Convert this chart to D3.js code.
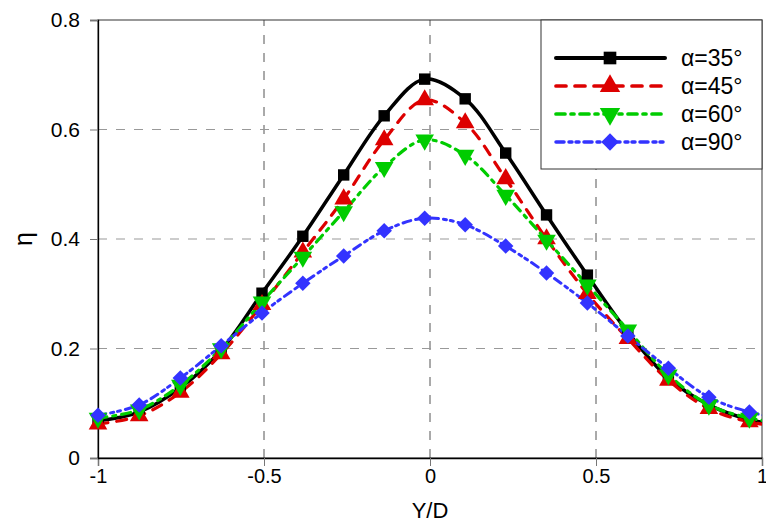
<!DOCTYPE html>
<html><head><meta charset="utf-8">
<script src="https://cdn.jsdelivr.net/npm/d3@7"></script>
<style>body{margin:0;background:#fff}svg{display:block}text{font-family:"Liberation Sans",Arial,sans-serif}</style>
</head><body>
<script>
const xValues = [-1.0,-0.876,-0.752,-0.629,-0.506,-0.383,-0.26,-0.138,-0.016,0.106,0.228,0.351,0.474,0.596,0.718,0.84,0.962,1.084];
const eta35 = [0.068,0.084,0.128,0.197,0.301,0.405,0.517,0.625,0.692,0.656,0.557,0.444,0.334,0.23,0.146,0.097,0.07,0.058];
const eta45 = [0.062,0.077,0.12,0.19,0.28,0.376,0.473,0.581,0.654,0.612,0.51,0.4,0.3,0.218,0.142,0.09,0.066,0.056];
const eta60 = [0.073,0.088,0.133,0.2,0.285,0.367,0.45,0.531,0.581,0.553,0.48,0.398,0.316,0.234,0.152,0.097,0.073,0.062];
const eta90 = [0.078,0.097,0.146,0.205,0.265,0.319,0.369,0.415,0.438,0.426,0.387,0.338,0.283,0.223,0.164,0.111,0.084,0.07];
const seriesNames = ["α=35°","α=45°","α=60°","α=90°"];
const seriesColors = ["#000000","#dd0000","#00cc00","#3333ff"];
const xTicks = [-1,-0.5,0,0.5,1];
const yTicks = [0,0.2,0.4,0.6,0.8];

const W=766,H=523;
const svg=d3.select("body").append("svg").attr("width",W).attr("height",H);
const x=d3.scaleLinear().domain([-1,1]).range([98,762]);
const y=d3.scaleLinear().domain([0,0.8]).range([458,20]);

// grid
svg.append("g").selectAll("line").data(xTicks.filter(d=>d>-1&&d<1)).join("line")
 .attr("x1",d=>x(d)).attr("x2",d=>x(d)).attr("y1",y(0)).attr("y2",y(0.8))
 .attr("stroke","#555").attr("stroke-width",1).attr("stroke-dasharray","9,9");
svg.append("g").selectAll("line").data(yTicks.filter(d=>d>0&&d<0.8)).join("line")
 .attr("x1",x(-1)).attr("x2",x(1)).attr("y1",d=>y(d)).attr("y2",d=>y(d))
 .attr("stroke","#999").attr("stroke-width",1.2).attr("stroke-dasharray","9,9");

// frame
svg.append("rect").attr("x",x(-1)).attr("y",y(0.8)).attr("width",x(1)-x(-1)).attr("height",y(0)-y(0.8))
 .attr("fill","none").attr("stroke","#333").attr("stroke-width",1);

// axes
const xAxis=d3.axisBottom(x).tickValues(xTicks).tickSize(8).tickPadding(3).tickFormat(d=>String(d));
const gx=svg.append("g").attr("transform",`translate(0,${y(0)})`).call(xAxis);
gx.select(".domain").attr("stroke","#000").attr("stroke-width",1.3);
gx.selectAll(".tick line").attr("stroke","#777");
gx.selectAll("text").attr("font-size",20).attr("fill","#000");
const yAxis=d3.axisLeft(y).tickValues(yTicks).tickSize(8).tickPadding(10).tickFormat(d=>String(d));
const gy=svg.append("g").attr("transform",`translate(${x(-1)},0)`).call(yAxis);
gy.select(".domain").attr("stroke","#000").attr("stroke-width",1.3);
gy.selectAll(".tick line").attr("stroke","#777");
gy.selectAll("text").attr("font-size",21).attr("fill","#000");

svg.append("text").attr("x",430).attr("y",518).attr("text-anchor","middle").attr("font-size",22).text("Y/D");
svg.append("text").attr("transform","translate(32,239) rotate(-90)").attr("text-anchor","middle").attr("font-size",25).text("η");

// clip
svg.append("clipPath").attr("id","clip").append("rect").attr("x",x(-1)).attr("y",y(0.8)).attr("width",x(1)-x(-1)).attr("height",y(0)-y(0.8));

const series=[eta35,eta45,eta60,eta90];
const dashes=[null,"10,9","9,6,3,6","8,5,3,4,3,5"];
const widths=[3.5,3.2,3.2,3];
const symbols=[d3.symbolSquare,d3.symbolTriangle,d3.symbolTriangle,d3.symbolSquare];
const symSizes=[130,150,150,120];
const rots=[0,0,180,45];
const line=d3.line().curve(d3.curveCatmullRom.alpha(0.5)).x(d=>x(d[0])).y(d=>y(d[1]));

series.forEach((s,i)=>{
  const pts=xValues.map((xv,j)=>[xv,s[j]]);
  svg.append("path").attr("clip-path","url(#clip)").attr("d",line(pts))
   .attr("fill","none").attr("stroke",seriesColors[i]).attr("stroke-width",widths[i])
   .attr("stroke-dasharray",dashes[i]).attr("stroke-linecap","round").attr("stroke-linejoin","round");
});
series.forEach((s,i)=>{
  const pts=xValues.map((xv,j)=>[xv,s[j]]).filter(p=>p[0]<=1);
  svg.append("g").selectAll("path").data(pts).join("path")
   .attr("d",d3.symbol().type(symbols[i]).size(symSizes[i]))
   .attr("transform",d=>`translate(${x(d[0])},${y(d[1])}) rotate(${rots[i]})`)
   .attr("fill",seriesColors[i]);
});

// legend
const lg=svg.append("g");
lg.append("rect").attr("x",541).attr("y",20).attr("width",221).attr("height",149).attr("fill","#fff").attr("stroke","#333").attr("stroke-width",1);
seriesNames.forEach((n,i)=>{
  const ly=58+i*28;
  lg.append("line").attr("x1",556).attr("x2",665).attr("y1",ly).attr("y2",ly)
   .attr("stroke",seriesColors[i]).attr("stroke-width",widths[i]+0.5).attr("stroke-dasharray",dashes[i]).attr("stroke-linecap","round");
  lg.append("path").attr("d",d3.symbol().type(symbols[i]).size(symSizes[i]+30)())
   .attr("transform",`translate(610,${ly}) rotate(${rots[i]})`).attr("fill",seriesColors[i]);
  lg.append("text").attr("x",681).attr("y",ly+8).attr("font-size",23).text(n);
});
</script>
</body></html>
